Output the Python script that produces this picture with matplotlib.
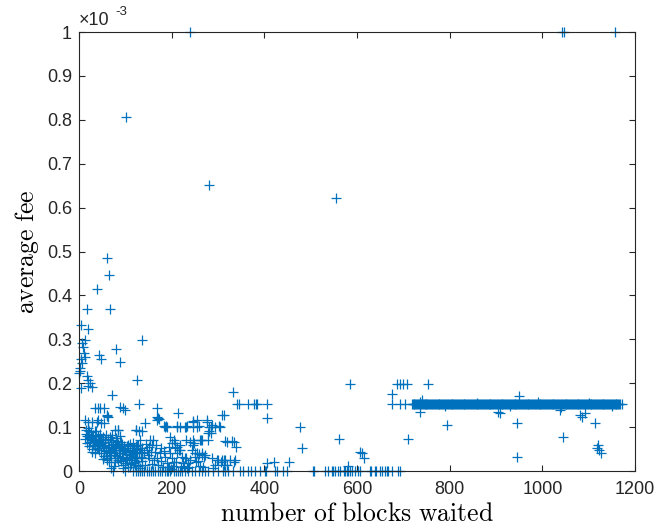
import numpy as np
import matplotlib
matplotlib.use('Agg')
import matplotlib.pyplot as plt

plt.rcParams['font.family'] = ['Liberation Sans', 'DejaVu Sans']
plt.rcParams['mathtext.fontset'] = 'cm'

# fee values are in units of 1e-3
top_x = [240, 1043, 1047, 1157, 101, 281, 555]
top_y = [1.0, 1.0, 1.0, 1.0, 0.806, 0.652, 0.622]

left_x = [61, 64, 39, 17, 67, 4, 20, 12, 7, 9, 136, 80, 43, 48, 89, 4, 13, 2, 1, 17,
          20, 20, 125, 5, 23, 27, 3, 6, 10]
left_y = [0.485, 0.447, 0.414, 0.368, 0.368, 0.333, 0.323, 0.298, 0.292, 0.283, 0.298,
          0.277, 0.264, 0.255, 0.248, 0.255, 0.260, 0.235, 0.224, 0.216, 0.207, 0.194,
          0.207, 0.188, 0.200, 0.192, 0.228, 0.245, 0.268]

mid_x = [71, 35, 42, 46, 53, 89, 96, 130, 61, 60, 169, 169, 172, 143, 183, 187, 212, 234,
         245, 259, 277, 281, 284, 302, 281, 284, 100, 20, 38, 53, 78, 85, 122, 129, 254,
         218, 232, 254, 276, 286, 294, 304, 308, 313, 247, 333, 340, 346, 365, 378, 381,
         385, 405, 405]
mid_y = [0.173, 0.143, 0.143, 0.143, 0.143, 0.146, 0.143, 0.153, 0.125, 0.128, 0.144,
         0.124, 0.118, 0.109, 0.103, 0.103, 0.103, 0.103, 0.112, 0.103, 0.116, 0.101,
         0.101, 0.103, 0.090, 0.086, 0.139, 0.112, 0.112, 0.109, 0.093, 0.093, 0.093,
         0.090, 0.116, 0.101, 0.101, 0.101, 0.112, 0.105, 0.101, 0.101, 0.128, 0.128,
         0.115, 0.181, 0.153, 0.153, 0.153, 0.153, 0.153, 0.153, 0.153, 0.120]

low_x = [245, 248, 263, 320, 335, 339, 197, 205, 208, 212, 216, 194, 197, 212, 255, 266,
         270, 299, 306, 313, 335, 405, 232, 240, 261, 265, 279, 315, 330, 218, 218, 247,
         250, 258, 265, 272, 232, 225, 236, 297, 308, 315, 326, 337, 294, 313, 320, 421,
         454, 279, 171, 168, 186, 189, 211, 229, 247, 135, 153, 160, 157, 200, 207, 214,
         132, 125, 135, 146, 164, 175, 186, 200, 222, 229, 240, 250, 135, 150, 128, 142,
         157, 171, 140, 148, 155, 162, 168, 178, 182, 190, 195, 203, 210, 226, 238, 244,
         256, 262, 286, 144, 152, 166, 176, 184, 192, 199, 206, 220, 234, 252, 268, 290]
low_y = [0.071, 0.063, 0.071, 0.067, 0.067, 0.055, 0.078, 0.071, 0.063, 0.055, 0.048,
         0.055, 0.040, 0.040, 0.040, 0.036, 0.033, 0.025, 0.021, 0.025, 0.021, 0.018,
         0.071, 0.067, 0.071, 0.071, 0.071, 0.068, 0.068, 0.059, 0.048, 0.059, 0.040,
         0.038, 0.040, 0.036, 0.029, 0.018, 0.018, 0.025, 0.025, 0.025, 0.025, 0.025,
         0.014, 0.014, 0.014, 0.021, 0.021, 0.086, 0.120, 0.116, 0.101, 0.101, 0.101,
         0.101, 0.101, 0.090, 0.071, 0.071, 0.059, 0.063, 0.052, 0.132, 0.071, 0.059,
         0.052, 0.048, 0.044, 0.040, 0.033, 0.029, 0.033, 0.029, 0.025, 0.033, 0.029,
         0.029, 0.014, 0.014, 0.017, 0.014, 0.040, 0.036, 0.044, 0.024, 0.030, 0.022,
         0.010, 0.018, 0.008, 0.012, 0.020, 0.012, 0.010, 0.048, 0.022, 0.012, 0.030,
         0.062, 0.055, 0.060, 0.052, 0.045, 0.010, 0.004, 0.020, 0.008, 0.006, 0.020,
         0.010, 0.006]

cluster_x = [12, 27, 41, 63, 48, 84, 124, 19, 34, 23, 37, 30, 48, 63, 70, 77, 91, 106, 117,
             127, 27, 41, 55, 66, 77, 88, 99, 109, 120, 131, 34, 70, 84, 95, 113, 124, 134,
             70, 95, 106, 120, 131, 15, 20, 25, 30, 40, 45, 52, 58, 62, 74, 80, 85, 92, 97,
             102, 110, 115, 118, 125, 50, 57, 66, 72, 80, 88, 14, 18, 22, 28, 33, 38, 44,
             48, 54, 60, 64, 68, 82, 90, 100, 108, 112, 120, 128, 76,
             16, 21, 26, 31, 36, 42, 47, 51, 56, 59, 65, 69, 73, 79, 83, 87, 93, 98, 104,
             111, 116, 122, 126, 133, 17, 24, 29, 35, 39, 46, 53, 58, 64, 71, 75, 81, 86,
             94, 101, 107, 114, 119, 130, 43, 52, 61, 67, 78, 89, 96, 103, 110, 118, 136]
cluster_y = [0.116, 0.112, 0.116, 0.124, 0.109, 0.093, 0.093, 0.097, 0.090, 0.074, 0.071,
             0.059, 0.067, 0.074, 0.067, 0.059, 0.067, 0.059, 0.063, 0.059, 0.044, 0.052,
             0.052, 0.044, 0.036, 0.052, 0.048, 0.044, 0.044, 0.052, 0.040, 0.029, 0.025,
             0.033, 0.033, 0.029, 0.033, 0.006, 0.006, 0.010, 0.014, 0.006, 0.085, 0.080,
             0.088, 0.083, 0.080, 0.085, 0.078, 0.083, 0.060, 0.055, 0.048, 0.062, 0.040,
             0.058, 0.038, 0.052, 0.025, 0.048, 0.040, 0.063, 0.070, 0.078, 0.082, 0.075,
             0.080, 0.072, 0.064, 0.056, 0.050, 0.066, 0.060, 0.048, 0.040, 0.034, 0.030,
             0.020, 0.048, 0.035, 0.022, 0.018, 0.030, 0.015, 0.020, 0.012, 0.012,
             0.094, 0.090, 0.076, 0.070, 0.092, 0.068, 0.074, 0.058, 0.066, 0.046, 0.055,
             0.070, 0.062, 0.058, 0.068, 0.054, 0.062, 0.050, 0.056, 0.062, 0.040, 0.056,
             0.030, 0.044, 0.080, 0.066, 0.078, 0.058, 0.052, 0.062, 0.048, 0.040, 0.044,
             0.052, 0.040, 0.030, 0.042, 0.046, 0.028, 0.036, 0.046, 0.024, 0.040, 0.072,
             0.028, 0.024, 0.036, 0.020, 0.030, 0.014, 0.026, 0.008, 0.018, 0.022]

zero_x = [74, 99, 117, 124, 128, 132, 135, 141, 146, 150, 155, 160, 165, 170, 175, 180, 185,
          189, 193, 197, 204, 210, 214, 218, 222, 229, 236, 243, 250, 258, 265, 272, 279,
          290, 301, 311, 315, 322, 333, 347, 355, 365, 371, 380, 391, 401, 404, 422, 427,
          441, 448, 506, 508, 531, 538, 545, 548, 553, 559, 563, 571, 574, 578, 581, 585,
          589, 596, 603, 607, 628, 631, 639, 642, 650, 653, 660, 664, 667, 675, 689, 693]

right_x = [585, 686, 693, 700, 707, 754, 675, 675, 693, 704, 736, 740, 795, 905, 478, 482,
           562, 709, 607, 610, 616, 581, 950, 909, 945, 945, 1044, 1081, 1085, 1092, 1114,
           1121, 1117, 1123, 1126, 1038]
right_y = [0.198, 0.198, 0.198, 0.198, 0.198, 0.198, 0.175, 0.153, 0.153, 0.153, 0.135,
           0.162, 0.105, 0.135, 0.101, 0.052, 0.072, 0.072, 0.044, 0.040, 0.029, 0.011,
           0.171, 0.133, 0.110, 0.033, 0.078, 0.128, 0.122, 0.133, 0.110, 0.059, 0.052,
           0.048, 0.040, 0.139]

# dense run of points at a fee of about 0.152e-3 (waits of 718..1171 blocks)
band_x = [718, 720, 722, 724, 726, 728, 730, 732, 734, 736, 738, 740, 742, 744, 746, 748,
          750, 752, 754, 756, 758, 760, 762, 764, 766, 768, 770, 772, 774, 776, 778, 780,
          782, 784, 786, 788, 790, 792, 794, 796, 798, 800, 802, 804, 806, 808, 810, 812,
          814, 816, 818, 820, 822, 824, 826, 828, 830, 832, 834, 836, 838, 840, 842, 844,
          846, 848, 850, 852, 854, 856, 858, 860, 862, 864, 866, 868, 870, 872, 874, 876,
          878, 880, 882, 884, 886, 888, 890, 892, 894, 896, 898, 900, 902, 904, 906, 908,
          910, 912, 914, 916, 918, 920, 922, 924, 926, 928, 930, 932, 934, 936, 938, 940,
          942, 944, 946, 948, 950, 952, 954, 956, 958, 960, 962, 964, 966, 968, 970, 972,
          974, 976, 978, 980, 982, 984, 986, 988, 990, 992, 994, 996, 998, 1000, 1002,
          1004, 1006, 1008, 1010, 1012, 1014, 1016, 1018, 1020, 1022, 1024, 1026, 1028,
          1030, 1032, 1034, 1036, 1038, 1040, 1042, 1044, 1046, 1048, 1050, 1052, 1054,
          1056, 1058, 1060, 1062, 1064, 1066, 1068, 1070, 1072, 1074, 1076, 1078, 1080,
          1082, 1084, 1086, 1088, 1090, 1092, 1094, 1096, 1098, 1100, 1102, 1104, 1106,
          1108, 1110, 1112, 1114, 1116, 1118, 1120, 1122, 1124, 1126, 1128, 1130, 1132,
          1134, 1136, 1138, 1140, 1142, 1144, 1146, 1148, 1150, 1152, 1154, 1156, 1158,
          1160, 1162, 1164, 1166, 1168, 1171]
band_fee = 0.152
band_edge_x = [735, 790, 860, 930, 990, 1040, 1100, 1150]
band_edge_y = [0.157, 0.148, 0.156, 0.147, 0.157, 0.146, 0.156, 0.148]

xs = (top_x + left_x + mid_x + low_x + cluster_x + zero_x + right_x + band_x + band_edge_x)
ys = (top_y + left_y + mid_y + low_y + cluster_y + [0.0] * len(zero_x) + right_y
      + [band_fee] * len(band_x) + band_edge_y)

fig = plt.figure(figsize=(6.57, 5.31), dpi=100)
ax = fig.add_axes([79 / 657, 60 / 531, 556 / 657, 439 / 531])

ax.plot(xs, ys, '+', color='#0072BD', markersize=6.5, markeredgewidth=0.9, clip_on=False)

ax.set_xlim(0, 1200)
ax.set_ylim(0, 1)
ax.set_xticks([0, 200, 400, 600, 800, 1000, 1200])
yt = [0, 0.1, 0.2, 0.3, 0.4, 0.5, 0.6, 0.7, 0.8, 0.9, 1]
ax.set_yticks(yt)
ax.set_yticklabels(['%g' % v for v in yt])

for s in ax.spines.values():
    s.set_color('#262626')
    s.set_linewidth(0.8)
ax.tick_params(direction='in', top=True, right=True, length=4, width=0.8,
               color='#262626', labelsize=13, labelcolor='#262626', pad=5)
ax.tick_params(axis='x', pad=7)

ax.set_xlabel(r'$\mathrm{number\ of\ blocks\ waited}$', fontsize=18.5, labelpad=3)
ax.set_ylabel(r'$\mathrm{average\ fee}$', fontsize=18.5, labelpad=4)

ax.text(0.0, 1.006, '\u00d710', transform=ax.transAxes, ha='left', va='bottom',
        fontsize=13, color='#262626')
ax.annotate('-3', xy=(0.0, 1.006), xycoords='axes fraction', xytext=(26, 8),
            textcoords='offset points', ha='left', va='bottom', fontsize=9.5,
            color='#262626')

fig.savefig('out.png', dpi=100)
